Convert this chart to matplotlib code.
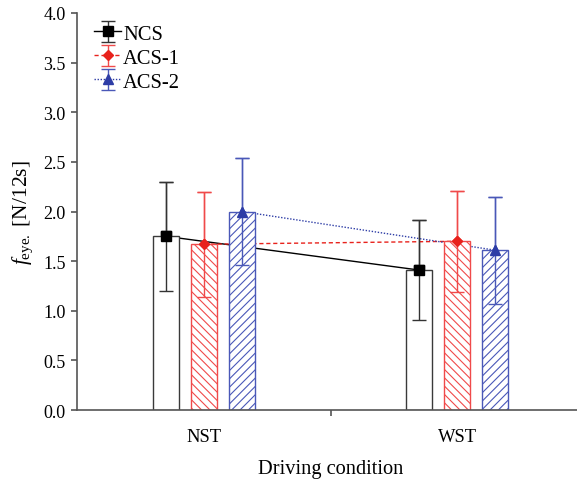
import numpy as np
import matplotlib.pyplot as plt

plt.rcParams['font.family'] = 'Liberation Serif'
plt.rcParams['mathtext.fontset'] = 'custom'
plt.rcParams['mathtext.rm'] = 'Liberation Serif'
plt.rcParams['mathtext.it'] = 'Liberation Serif:italic'
plt.rcParams['hatch.linewidth'] = 0.8

conditions = ["NST", "WST"]
series = ["NCS", "ACS-1", "ACS-2"]
means = {"NCS": [1.75, 1.41], "ACS-1": [1.67, 1.70], "ACS-2": [2.00, 1.61]}
errs = {"NCS": [0.55, 0.50], "ACS-1": [0.53, 0.51], "ACS-2": [0.54, 0.54]}

# styles per series
offsets = {"NCS": -0.15, "ACS-1": 0.0, "ACS-2": 0.15}
colors = {"NCS": "black", "ACS-1": "#e8221c", "ACS-2": "#2e3da6"}
edge = {"NCS": "#3a3a3a", "ACS-1": "#f04a4a", "ACS-2": "#4a58b8"}
errc = {"NCS": "#333333", "ACS-1": "#f04a4a", "ACS-2": "#4a58b8"}
hatches = {"NCS": None, "ACS-1": "\\\\\\\\", "ACS-2": "////"}
markers = {"NCS": "s", "ACS-1": "D", "ACS-2": "^"}
msize = {"NCS": 7, "ACS-1": 5.5, "ACS-2": 7}
lstyles = {"NCS": "-", "ACS-1": (0, (3, 2)), "ACS-2": (0, (1, 1.2))}

fig = plt.figure(figsize=(5.77, 4.81), dpi=100)
ax = fig.add_axes([0.1334, 0.1455, 0.879, 0.8254])

x = np.arange(len(conditions))
handles = []
for s in series:
    xs = x + offsets[s]
    ax.bar(xs, means[s], width=0.102, facecolor="white", edgecolor=edge[s],
           hatch=hatches[s], linewidth=1.0, zorder=2)
    # connecting line (under the bars), used for the legend
    h = ax.errorbar(xs, means[s], yerr=errs[s], color=colors[s], ecolor=errc[s],
                    ls=lstyles[s], lw=1.0, marker=markers[s], ms=msize[s],
                    capsize=5, elinewidth=1.0, zorder=1)
    # markers and error bars on top
    ax.errorbar(xs, means[s], yerr=errs[s], color=colors[s], ecolor=errc[s],
                ls="none", marker=markers[s], ms=msize[s],
                capsize=5, elinewidth=1.0, capthick=1.0, zorder=3)
    handles.append(h)

ax.set_xlim(-0.5, 1.5)
ax.set_ylim(0, 4.0)
ax.set_yticks(np.arange(0, 4.01, 0.5))
ax.set_yticklabels(["%.1f" % v for v in np.arange(0, 4.01, 0.5)], fontsize=13)
ax.set_xticks(x)
ax.set_xticklabels(conditions, fontsize=13.3)
ax.tick_params(axis='x', length=0, pad=13)
ax.set_xticks([0.5], minor=True)
ax.tick_params(axis='x', which='minor', length=4, color='#555555', width=1.2)
ax.tick_params(axis='y', length=4, color='#555555', width=1.2, pad=4)

for side in ["top", "right"]:
    ax.spines[side].set_visible(False)
for side in ["left", "bottom"]:
    ax.spines[side].set_color('#555555')
    ax.spines[side].set_linewidth(1.2)

ax.set_xlabel("Driving condition", fontsize=14.7, labelpad=10)
ax.set_ylabel(r"$f_{\mathrm{eye.}}$ [N/12s]", fontsize=15.5, labelpad=6)

ax.legend(handles, series, loc="upper left", frameon=False, fontsize=14.8,
          handlelength=1.3, handletextpad=0.1, labelspacing=0.22,
          borderaxespad=0.15, bbox_to_anchor=(0.012, 1.0))

fig.savefig("out.png", dpi=100)
